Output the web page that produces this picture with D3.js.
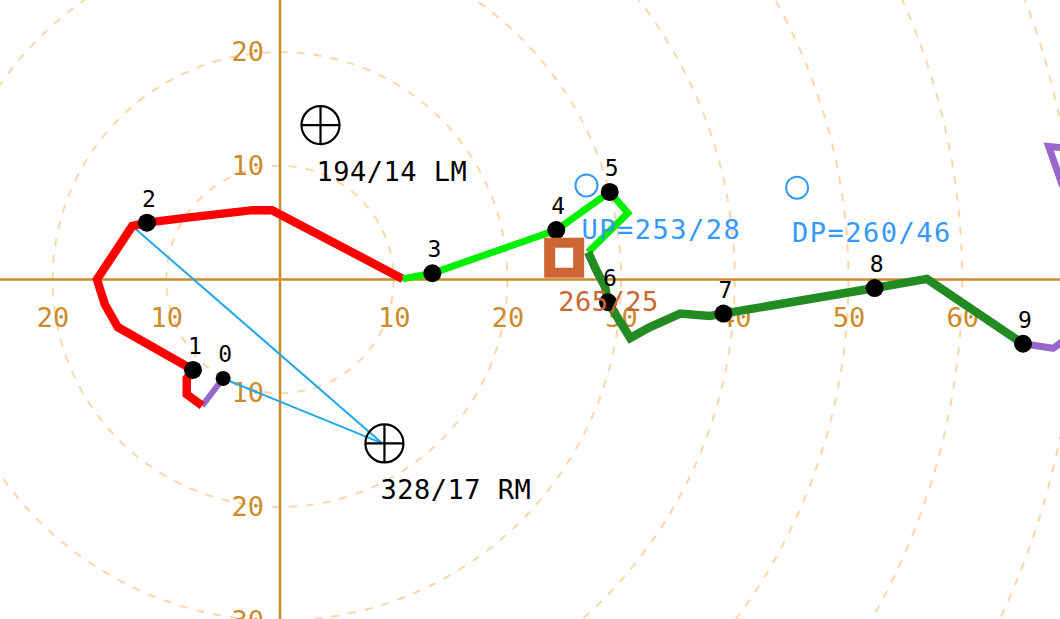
<!DOCTYPE html>
<html>
<head>
<meta charset="utf-8">
<script src="https://cdn.jsdelivr.net/npm/d3@7"></script>
<style>
  html, body { margin: 0; padding: 0; background: #ffffff; }
  svg { display: block; }
  .big { font-family: "DejaVu Sans Mono", monospace; font-size: 27px; }
  .num { font-family: "DejaVu Sans Mono", monospace; font-size: 23px; }
</style>
</head>
<body>
<svg id="chart" width="1060" height="619"></svg>
<script>
// ---------- DATA (knots) ----------
const ringKnots = [10, 20, 30, 40, 50, 60, 70, 80];
const xTickVals = [-20, -10, 10, 20, 30, 40, 50, 60, 70];
const yTickVals = [20, 10, -10, -20, -30];

// hodograph trace vertices (u, v in knots)
const traceU = [-5.0, -6.85, -8.2, -8.2, -7.65, -14.25, -15.4, -16.1, -13.0, -11.7, -8.5, -2.4, -0.7, 10.8,
                13.4, 24.3, 29.0, 30.6, 27.1,
                27.8, 28.6, 28.85, 30.8, 32.5, 35.2, 37.8, 39.0, 52.3, 56.9, 65.35,
                68.0, 71.5, 72.5, 68.8, 67.6, 70.0];
const traceV = [-8.7, -11.1, -10.1, -8.7, -7.95, -4.2, -2.2, 0.0, 4.7, 5.0, 5.4, 6.1, 6.1, 0.05,
                0.55, 4.35, 7.7, 5.85, 2.4,
                0.85, -0.65, -2.0, -5.15, -4.2, -3.0, -3.2, -3.0, -0.75, 0.05, -5.65,
                -6.05, -3.5, 4.3, 8.3, 11.7, 11.5];
// layer k spans trace indices layerBreaks[k] .. layerBreaks[k+1]
const layerBreaks = [0, 1, 13, 18, 29, 35];
const layerColors = ["#9966cc", "#ff0000", "#00ee00", "#228b22", "#9966cc"];
const layerWidths = [6, 8.5, 7, 8.5, 7];

// labelled height points
const pointLabels = ["0", "1", "2", "3", "4", "5", "6", "7", "8", "9"];
const pointU = [-5.0, -7.65, -11.7, 13.4, 24.3, 29.0, 28.85, 39.0, 52.3, 65.35];
const pointV = [-8.7, -7.95, 5.0, 0.55, 4.35, 7.7, -2.0, -3.0, -0.75, -5.65];

// storm motions & special vectors (direction / speed)
const stormNames = ["LM", "RM"];
const stormDir = [194, 328];
const stormSpd = [14, 17];
const vecNames = ["UP", "DP"];
const vecDir = [253, 260];
const vecSpd = [28, 46];
const meanDir = 265;
const meanSpd = 25;
// shear lines from RM to trace vertices
const shearFromTraceIdx = [8, 0];

// ---------- DRAWING ----------
const svg = d3.select("#chart");
const W = 1060, H = 619;
const ox = 280, oy = 279.5, pxPerKt = 11.37;
const x = d3.scaleLinear().domain([0, 10]).range([ox, ox + 10 * pxPerKt]);
const y = d3.scaleLinear().domain([0, 10]).range([oy, oy - 10 * pxPerKt]);
const rad = d => d * pxPerKt;
const toUV = (dir, spd) => {
  const a = dir * Math.PI / 180;
  return [-spd * Math.sin(a), -spd * Math.cos(a)];
};

const axisColor = "#cc8a2a";

// rings
svg.append("g").selectAll("circle").data(ringKnots).join("circle")
  .attr("cx", x(0)).attr("cy", y(0)).attr("r", d => rad(d))
  .attr("fill", "none").attr("stroke", "#fcd6a8").attr("stroke-width", 2)
  .attr("stroke-dasharray", "8,9");

// axes lines
svg.append("line").attr("x1", 0).attr("x2", W).attr("y1", y(0)).attr("y2", y(0))
  .attr("stroke", axisColor).attr("stroke-width", 2.5);
svg.append("line").attr("x1", x(0)).attr("x2", x(0)).attr("y1", 0).attr("y2", H)
  .attr("stroke", axisColor).attr("stroke-width", 2.5);

// axis labels via d3 axes
const gx = svg.append("g").attr("transform", `translate(0,${y(0)})`)
  .call(d3.axisBottom(x).tickValues(xTickVals).tickFormat(d => Math.abs(d)).tickSize(0).tickPadding(28));
const gy = svg.append("g").attr("transform", `translate(${x(0)},0)`)
  .call(d3.axisLeft(y).tickValues(yTickVals).tickFormat(d => Math.abs(d)).tickSize(0).tickPadding(16));
[gx, gy].forEach(g => {
  g.select(".domain").remove();
  g.selectAll("text").attr("class", "big").attr("fill", axisColor)
    .style("font-family", '"DejaVu Sans Mono", monospace').style("font-size", "27px");
});

// shear lines
const rm = toUV(stormDir[1], stormSpd[1]);
svg.append("g").selectAll("line").data(shearFromTraceIdx).join("line")
  .attr("x1", x(rm[0])).attr("y1", y(rm[1]))
  .attr("x2", i => x(traceU[i])).attr("y2", i => y(traceV[i]))
  .attr("stroke", "#1ea7ec").attr("stroke-width", 2);

// hodograph layers
const lineGen = d3.line().x(i => x(traceU[i])).y(i => y(traceV[i]));
const layers = layerColors.map((c, k) => d3.range(layerBreaks[k], layerBreaks[k + 1] + 1));
svg.append("g").selectAll("path").data(layers).join("path")
  .attr("d", d => lineGen(d))
  .attr("fill", "none")
  .attr("stroke", (d, k) => layerColors[k])
  .attr("stroke-width", (d, k) => layerWidths[k])
  .attr("stroke-linejoin", "miter").attr("stroke-linecap", "butt");

// height points
const pg = svg.append("g");
pg.selectAll("circle").data(pointLabels).join("circle")
  .attr("cx", (d, i) => x(pointU[i])).attr("cy", (d, i) => y(pointV[i]))
  .attr("r", (d, i) => i === 0 ? 7.5 : 9).attr("fill", "#000");
pg.selectAll("text").data(pointLabels).join("text")
  .attr("class", "num")
  .attr("x", (d, i) => x(pointU[i]) + 2).attr("y", (d, i) => y(pointV[i]) - 16)
  .attr("text-anchor", "middle").attr("fill", "#000").text(d => d);

// storm motion markers
stormNames.forEach((name, i) => {
  const [u, v] = toUV(stormDir[i], stormSpd[i]);
  const cx = x(u) + 2, cy = y(v), r = 19;
  const g = svg.append("g");
  g.append("circle").attr("cx", cx).attr("cy", cy).attr("r", r)
    .attr("fill", "none").attr("stroke", "#000").attr("stroke-width", 2.2);
  g.append("line").attr("x1", cx - r).attr("x2", cx + r).attr("y1", cy).attr("y2", cy)
    .attr("stroke", "#000").attr("stroke-width", 2.2);
  g.append("line").attr("x1", cx).attr("x2", cx).attr("y1", cy - r).attr("y2", cy + r)
    .attr("stroke", "#000").attr("stroke-width", 2.2);
  g.append("text").attr("class", "big").attr("x", cx - 4).attr("y", cy + 56)
    .attr("fill", "#000").style("letter-spacing", "0.5px")
    .text(`${stormDir[i]}/${stormSpd[i]} ${name}`);
});

// mean wind square
{
  const [u, v] = toUV(meanDir, meanSpd);
  const cx = x(u) + 1, cy = y(v) + 3;
  svg.append("rect").attr("x", cx - 20).attr("y", cy - 20).attr("width", 40).attr("height", 40)
    .attr("fill", "#cc6633");
  svg.append("rect").attr("x", cx - 9).attr("y", cy - 10).attr("width", 18).attr("height", 20)
    .attr("fill", "#fff");
}

// UP / DP vectors
vecNames.forEach((name, i) => {
  const [u, v] = toUV(vecDir[i], vecSpd[i]);
  const cx = x(u) + 2, cy = y(v) - 1;
  svg.append("circle").attr("cx", cx).attr("cy", cy).attr("r", 11)
    .attr("fill", "none").attr("stroke", "#3399ff").attr("stroke-width", 2);
  svg.append("text").attr("class", "big").attr("x", cx - 5).attr("y", cy + 54)
    .attr("fill", "#3399ff").style("letter-spacing", "1.5px")
    .text(`${name}=${vecDir[i]}/${vecSpd[i]}`);
});

// mean wind text (drawn last, over line and point 6)
{
  const [u, v] = toUV(meanDir, meanSpd);
  svg.append("text").attr("class", "big").attr("x", x(u) - 5).attr("y", y(v) + 56)
    .attr("fill", "#cc6633").style("letter-spacing", "0.5px")
    .text(`${meanDir}/${meanSpd}`);
}
</script>
</body>
</html>
